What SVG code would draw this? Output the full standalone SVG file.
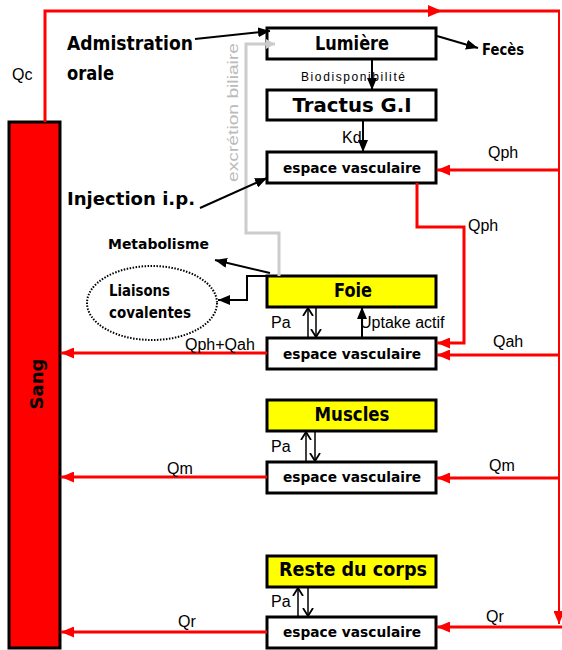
<svg xmlns="http://www.w3.org/2000/svg" width="562" height="650" viewBox="0 0 562 650">
<style>
.box{fill:#fff;stroke:#000;stroke-width:3}
.yel{fill:#ffff00;stroke:#000;stroke-width:3}
.lbl{font-family:"DejaVu Sans","Liberation Sans",sans-serif;font-weight:bold;fill:#000}
.big{font-size:19px}
.mid{font-size:14px}
.q{font-family:"Liberation Sans",Arial,sans-serif;font-size:16px;fill:#000}
.red{stroke:#ff0000;stroke-width:3;fill:none}
.blk{stroke:#000;stroke-width:2;fill:none}
.pa{stroke:#000;stroke-width:1.5;fill:none}
</style>
<defs>
<marker id="ar" markerUnits="userSpaceOnUse" markerWidth="13" markerHeight="11" refX="13" refY="5.5" orient="auto"><path d="M0,0 L13,5.5 L0,11 z" fill="#ff0000"/></marker>
<marker id="ab" markerUnits="userSpaceOnUse" markerWidth="12" markerHeight="10" refX="12" refY="5" orient="auto"><path d="M0,0 L12,5 L0,10 z" fill="#000"/></marker>
<marker id="ag" markerUnits="userSpaceOnUse" markerWidth="10" markerHeight="10" refX="9" refY="5" orient="auto"><path d="M0,0 L9,5 L0,10 z" fill="#cccccc"/></marker>
<marker id="ao" markerUnits="userSpaceOnUse" markerWidth="10" markerHeight="12" refX="8" refY="6" orient="auto"><path d="M0,1 L8,6 L0,11" fill="none" stroke="#000" stroke-width="1.8"/></marker>
</defs>
<rect width="562" height="650" fill="#fff"/>

<g id="sang">
<rect x="9" y="122" width="51" height="526" fill="#ff0000" stroke="#000" stroke-width="3"/>
<text class="lbl" font-size="18" transform="translate(43,384) rotate(-90)" text-anchor="middle">Sang</text>
</g>

<g id="lumiere">
<rect class="box" x="267" y="28" width="169" height="31"/>
<text class="lbl big" x="352" y="50" text-anchor="middle" textLength="74" lengthAdjust="spacingAndGlyphs">Lumière</text>
</g>
<g id="tractus">
<rect class="box" x="267" y="90" width="169" height="30"/>
<text class="lbl big" x="352" y="112" text-anchor="middle" textLength="119" lengthAdjust="spacingAndGlyphs">Tractus G.I</text>
</g>
<g id="ev1">
<rect class="box" x="267" y="152" width="169" height="31"/>
<text class="lbl mid" x="352" y="173" text-anchor="middle" textLength="138" lengthAdjust="spacingAndGlyphs">espace vasculaire</text>
</g>
<g id="foie">
<rect class="yel" x="267" y="276" width="169" height="31"/>
<text class="lbl big" x="353" y="297" text-anchor="middle" textLength="38" lengthAdjust="spacingAndGlyphs">Foie</text>
</g>
<g id="ev2">
<rect class="box" x="267" y="338" width="169" height="31"/>
<text class="lbl mid" x="352" y="359" text-anchor="middle" textLength="138" lengthAdjust="spacingAndGlyphs">espace vasculaire</text>
</g>
<g id="muscles">
<rect class="yel" x="267" y="400" width="169" height="31"/>
<text class="lbl big" x="352" y="421" text-anchor="middle" textLength="75" lengthAdjust="spacingAndGlyphs">Muscles</text>
</g>
<g id="ev3">
<rect class="box" x="267" y="462" width="169" height="31"/>
<text class="lbl mid" x="352" y="482" text-anchor="middle" textLength="138" lengthAdjust="spacingAndGlyphs">espace vasculaire</text>
</g>
<g id="reste">
<rect class="yel" x="267" y="556" width="169" height="31"/>
<text class="lbl big" x="353" y="576" text-anchor="middle" textLength="148" lengthAdjust="spacingAndGlyphs">Reste du corps</text>
</g>
<g id="ev4">
<rect class="box" x="267" y="617" width="169" height="31"/>
<text class="lbl mid" x="352" y="637" text-anchor="middle" textLength="138" lengthAdjust="spacingAndGlyphs">espace vasculaire</text>
</g>

<g id="liaisons">
<ellipse cx="152" cy="303" rx="65" ry="37" fill="none" stroke="#000" stroke-width="2" stroke-dasharray="1.5 1.5"/>
<text class="lbl" font-size="15" x="109" y="296" textLength="61" lengthAdjust="spacingAndGlyphs">Liaisons</text>
<text class="lbl" font-size="15" x="109" y="318" textLength="82" lengthAdjust="spacingAndGlyphs">covalentes</text>
</g>
<g id="admin">
<text class="lbl" font-size="19" x="67" y="50" textLength="126" lengthAdjust="spacingAndGlyphs">Admistration</text>
<text class="lbl" font-size="19" x="67" y="80" textLength="47" lengthAdjust="spacingAndGlyphs">orale</text>
</g>
<g id="injection">
<text class="lbl" font-size="18" x="67" y="205" textLength="128" lengthAdjust="spacingAndGlyphs">Injection i.p.</text>
</g>
<g id="feces">
<text class="lbl" font-size="16" x="482" y="55" textLength="42" lengthAdjust="spacingAndGlyphs">Fecès</text>
</g>
<g id="metabolisme">
<text class="lbl" font-size="14" x="108" y="249" textLength="101" lengthAdjust="spacingAndGlyphs">Metabolisme</text>
</g>

<g id="connectors">
<path class="red" d="M45,122 V11 H560"/>
<path d="M428,5 L442,11 L428,17 z" fill="#ff0000"/>
<path d="M559,11 V624" stroke="#ff0000" stroke-width="2" fill="none" marker-end="url(#ar)"/>
<path class="red" d="M559,170 H437" marker-end="url(#ar)"/>
<path class="red" d="M417,183 V227 H464 V343 H437" marker-end="url(#ar)"/>
<path class="red" d="M559,355 H437" marker-end="url(#ar)"/>
<path class="red" d="M267,353 H61" marker-end="url(#ar)"/>
<path class="red" d="M559,478 H437" marker-end="url(#ar)"/>
<path class="red" d="M267,477 H61" marker-end="url(#ar)"/>
<path class="red" d="M562,627 H437" marker-end="url(#ar)"/>
<path class="red" d="M267,632 H61" marker-end="url(#ar)"/>
<path d="M279,276 V233 H246 V44 H275" stroke="#cccccc" stroke-width="3" fill="none" marker-end="url(#ag)"/>
<text font-family="Liberation Sans,Arial,sans-serif" font-size="15" fill="#bbbbbb" transform="translate(238,182) rotate(-90)" textLength="139" lengthAdjust="spacingAndGlyphs">excrétion biliaire</text>
<path class="blk" stroke-width="2.5" d="M195,39 L270,31" marker-end="url(#ab)"/>
<path class="blk" stroke-width="2.5" d="M437,36 L478,48" marker-end="url(#ab)"/>
<path class="blk" d="M372,59 V90" marker-end="url(#ab)"/>
<path class="blk" d="M363,120 V152" marker-end="url(#ab)"/>
<path class="blk" d="M200,208 L267,178" marker-end="url(#ab)"/>
<path class="blk" stroke-width="2.5" d="M270,273 L215,260" marker-end="url(#ab)"/>
<path class="blk" stroke-width="3" d="M267,276 H247 V300 H218" marker-end="url(#ab)"/>
<path class="blk" d="M362,338 V307" marker-end="url(#ab)"/>
<path class="pa" d="M308,338 V308" marker-end="url(#ao)"/>
<path class="pa" d="M316,307 V337" marker-end="url(#ao)"/>
<path class="pa" d="M306,462 V432" marker-end="url(#ao)"/>
<path class="pa" d="M315,431 V461" marker-end="url(#ao)"/>
<path class="pa" d="M298,617 V588" marker-end="url(#ao)"/>
<path class="pa" d="M308,587 V616" marker-end="url(#ao)"/>
<text class="q" x="12" y="80">Qc</text>
<text font-family="Liberation Sans,Arial,sans-serif" font-size="12" x="301" y="81" textLength="104" lengthAdjust="spacing">Biodisponibilité</text>
<text class="q" x="342" y="143">Kd</text>
<text class="q" x="488" y="158">Qph</text>
<text class="q" x="468" y="231">Qph</text>
<text class="q" x="493" y="347">Qah</text>
<text class="q" x="185" y="350">Qph+Qah</text>
<text class="q" x="271" y="328">Pa</text>
<text class="q" x="360" y="328">Uptake actif</text>
<text class="q" x="271" y="452">Pa</text>
<text class="q" x="167" y="474">Qm</text>
<text class="q" x="489" y="471">Qm</text>
<text class="q" x="271" y="607">Pa</text>
<text class="q" x="178" y="627">Qr</text>
<text class="q" x="486" y="622">Qr</text>
</g>
</svg>
